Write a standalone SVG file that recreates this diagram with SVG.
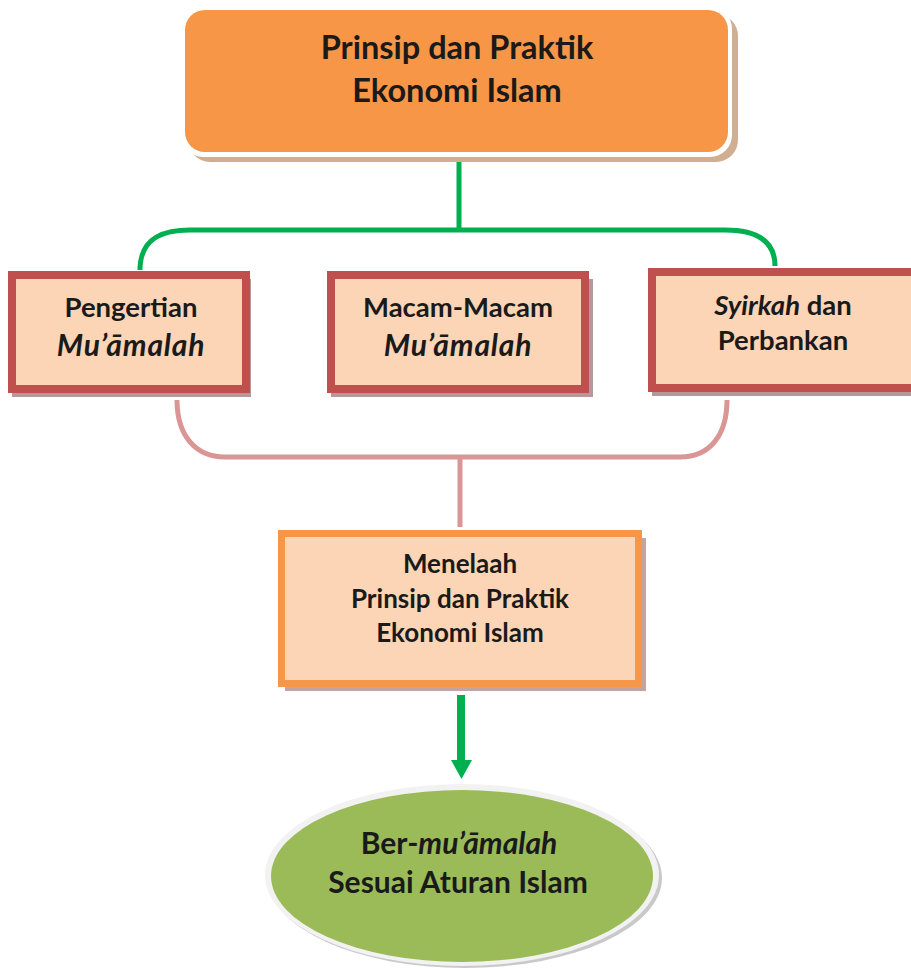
<svg xmlns="http://www.w3.org/2000/svg" width="911" height="968" viewBox="0 0 911 968">
<style>
text{font-family:Lato,"Open Sans","Liberation Sans",sans-serif;font-weight:bold;fill:#1a1a1a;text-anchor:middle}
.i{font-style:italic}
.red{fill:#fbd5b5;stroke:#c0504d;stroke-width:8}
.sh{fill:#b39a9a}
.t1{font-size:32.5px}
.t2{font-size:27.5px}
.ti{font-size:30px;letter-spacing:0.8px}
.t3{font-size:26px}
.t4{font-size:30px}
</style>
<g id="connectors" fill="none">
<path d="M459,160 V230 M140,266 V270 C140,240 160,230 190,230 H725 C755,230 775,240 775,266" stroke="#00b050" stroke-width="5"/>
<path d="M177,400 C177,435 195,457 225,457 H680 C710,457 727,435 727,400 M460,457 V527" stroke="#d99694" stroke-width="5"/>
<path d="M461,695 V762" stroke="#00b050" stroke-width="8"/>
<polygon points="451,760 472,760 461.5,779" fill="#00b050"/>
</g>
<g id="top">
<rect x="188" y="14" width="550" height="148" rx="22" fill="#cfae92"/>
<rect x="181" y="7" width="551" height="150" rx="22" fill="#ffffff"/>
<rect x="185" y="10" width="543" height="142" rx="20" fill="#f79646"/>
<text class="t1" x="457" y="59">Prinsip dan Praktik</text>
<text class="t1" x="457" y="102">Ekonomi Islam</text>
</g>
<g id="pengertian">
<rect class="sh" x="12" y="279" width="239" height="118"/>
<rect class="red" x="12" y="275" width="234" height="114"/>
<text class="t2" x="131" y="317">Pengertian</text>
<text class="ti i" x="131" y="356">Mu’āmalah</text>
</g>
<g id="macam">
<rect class="sh" x="331" y="279" width="262" height="118"/>
<rect class="red" x="331" y="275" width="254" height="114"/>
<text class="t2" x="458" y="317">Macam-Macam</text>
<text class="ti i" x="458" y="356">Mu’āmalah</text>
</g>
<g id="syirkah">
<rect class="sh" x="652" y="276" width="270" height="120"/>
<rect class="red" x="652" y="272" width="270" height="116"/>
<text class="t2" x="783" y="315"><tspan class="i">Syirkah</tspan> dan</text>
<text class="t2" x="783" y="350">Perbankan</text>
</g>
<g id="menelaah">
<rect x="285" y="538" width="361" height="153" fill="#c6a3a3"/>
<rect x="281.5" y="533.5" width="357" height="150" fill="#fbd5b5" stroke="#f79646" stroke-width="7"/>
<text class="t3" x="460" y="573">Menelaah</text>
<text class="t3" x="460" y="608">Prinsip dan Praktik</text>
<text class="t3" x="460" y="642">Ekonomi Islam</text>
</g>
<g id="bermuamalah">
<ellipse cx="465" cy="878" rx="197" ry="90" fill="#c9c9c9"/>
<ellipse cx="462" cy="875" rx="197" ry="91" fill="#f2f2f2"/>
<ellipse cx="462" cy="876" rx="191" ry="86" fill="#9bbb59"/>
<text class="t4" x="459" y="854">Ber-<tspan class="i">mu’āmalah</tspan></text>
<text class="t4" x="458" y="893">Sesuai Aturan Islam</text>
</g>
</svg>
